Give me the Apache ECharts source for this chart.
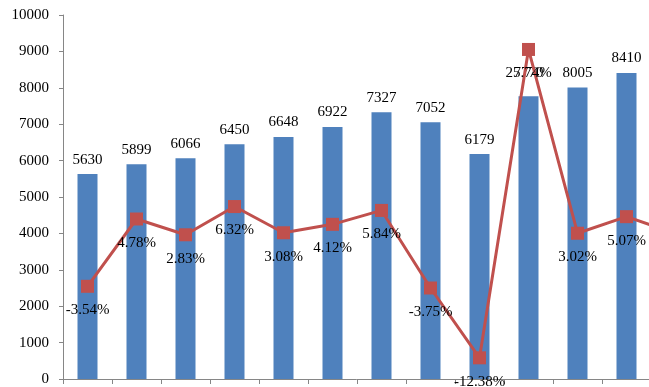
<!DOCTYPE html>
<html>
<head>
<meta charset="utf-8">
<script src="https://cdn.jsdelivr.net/npm/echarts@6/dist/echarts.min.js"></script>
<style>html,body{margin:0;padding:0;background:#fff}#c{width:649px;height:387px}</style>
</head>
<body>
<div id="c"></div>
<script>
var categories = ['1','2','3','4','5','6','7','8','9','10','11','12','13'];
var barValues = [5630, 5899, 6066, 6450, 6648, 6922, 7327, 7052, 6179, 7770, 8005, 8410, 8660];
var growthPct = [-3.54, 4.78, 2.83, 6.32, 3.08, 4.12, 5.84, -3.75, -12.38, 25.74, 3.02, 5.07, 3.0];
var yTicks = {min: 0, max: 10000, interval: 1000};

var chart = echarts.init(document.getElementById('c'), null, {renderer: 'canvas'});
var font = 'Liberation Serif, Times New Roman, serif';
var barData = barValues.map(function (v, i) {
  return i === 9 ? {value: v, label: {offset: [0, -9]}} : v;
});
chart.setOption({
  animation: false,
  grid: {left: 63, top: 15, width: 637, height: 364, containLabel: false, outerBoundsMode: 'none'},
  xAxis: {
    type: 'category', data: categories,
    axisLine: {lineStyle: {color: '#868686', width: 1}},
    axisTick: {show: true, length: 5, lineStyle: {color: '#868686'}},
    axisLabel: {show: false},
    splitLine: {show: false}
  },
  yAxis: [{
    type: 'value', min: yTicks.min, max: yTicks.max, interval: yTicks.interval,
    axisLine: {show: true, lineStyle: {color: '#868686', width: 1}},
    axisTick: {show: true, length: 4, lineStyle: {color: '#868686'}},
    axisLabel: {color: '#000', fontFamily: font, fontSize: 15, margin: 14,
      formatter: function (v) { return String(v); }},
    splitLine: {show: false}
  }, {
    type: 'value', min: -15, max: 30, interval: 5, show: false,
    splitLine: {show: false}
  }],
  series: [{
    type: 'bar', data: barData, barWidth: 20, yAxisIndex: 0,
    itemStyle: {color: '#4F81BD'},
    label: {show: true, position: 'top', distance: 7, color: '#000', fontFamily: font, fontSize: 15}
  }, {
    type: 'line', data: growthPct, yAxisIndex: 1,
    lineStyle: {color: '#C0504D', width: 3},
    itemStyle: {color: '#C0504D'},
    symbol: 'rect', symbolSize: 13,
    label: {show: true, position: 'bottom', distance: 10, color: '#000', fontFamily: font, fontSize: 15,
      formatter: function (p) { return p.value.toFixed(2) + '%'; }}
  }]
});
</script>
</body>
</html>
